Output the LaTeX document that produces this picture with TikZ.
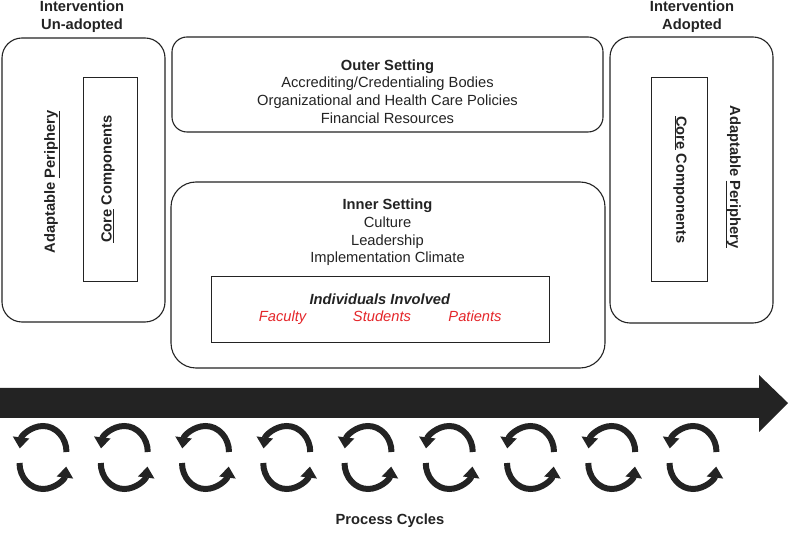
\documentclass[tikz,border=0pt]{standalone}
\usepackage{fontspec}
\setmainfont{Liberation Sans}
\usetikzlibrary{arrows.meta}
\definecolor{inkgray}{RGB}{35,35,35}
\definecolor{namered}{RGB}{228,38,42}
\tikzset{
  roundbox/.style={draw=inkgray, line width=1.1pt, rounded corners=#1, inner sep=0pt},
  corebox/.style={draw=inkgray, line width=1pt, inner sep=0pt},
  boxtext/.style={text=inkgray, align=center, inner sep=0pt, font=\fontsize{14.7}{17.7}\selectfont},
  redname/.style={boxtext, text=namered, anchor=base},
  cyclearc/.style={draw=inkgray, line width=6pt, -{Triangle[width=16pt,length=11pt]}},
}
\begin{document}
\begin{tikzpicture}
\useasboundingbox (0pt,0pt) rectangle (790pt,-534pt);
% before: intervention un-adopted
\node[boxtext] (titleleft) at (82pt,-17pt) {\textbf{Intervention}\\\textbf{Un-adopted}};
\node[roundbox=20pt, minimum width=163pt, minimum height=284pt] (unadopted) at (83.5pt,-180pt) {};
\node[corebox, rotate=90, minimum width=204pt, minimum height=54pt] (corel) at (110pt,-180pt) {};
\node[boxtext, rotate=90] (corelabel) at (108pt,-179pt) {\textbf{\underline{Core} Components}};
\node[boxtext, rotate=90] (perilabel) at (52pt,-182pt) {\textbf{Adaptable \underline{Periphery}}};
% settings
\node[roundbox=15pt, minimum width=431pt, minimum height=95pt] (outer) at (387.5pt,-84.5pt) {};
\node[boxtext] (outertext) at (387.5pt,-91.5pt) {\textbf{Outer Setting}\\Accrediting/Credentialing Bodies\\Organizational and Health Care Policies\\Financial Resources};
\node[roundbox=25pt, minimum width=434pt, minimum height=186pt] (inner) at (388pt,-275pt) {};
\node[boxtext] (innertext) at (387.5pt,-232.5pt) {\textbf{Inner Setting}\\Culture\\Leadership\\Implementation Climate};
\node[corebox, minimum width=338pt, minimum height=66pt] (indiv) at (380pt,-310pt) {};
\node[boxtext, anchor=base] (indivhead) at (380pt,-305pt) {\textbf{\textit{Individuals Involved}}};
\node[redname] (faculty) at (283pt,-322pt) {\textit{Faculty}};
\node[redname] (students) at (382pt,-322pt) {\textit{Students}};
\node[redname] (patients) at (475pt,-322pt) {\textit{Patients}};
% after: intervention adopted
\node[boxtext] (titleright) at (692pt,-17pt) {\textbf{Intervention}\\\textbf{Adopted}};
\node[roundbox=20pt, minimum width=163pt, minimum height=286pt] (adopted) at (691.5pt,-180pt) {};
\node[corebox, rotate=-90, minimum width=204pt, minimum height=56pt] (corer) at (679pt,-180pt) {};
\node[boxtext, rotate=-90] (corerlabel) at (680pt,-180pt) {\textbf{\underline{Core} Components}};
\node[boxtext, rotate=-90] (perirlabel) at (733pt,-177pt) {\textbf{Adaptable \underline{Periphery}}};
% time arrow
\fill[inkgray] (0pt,-388pt) -- (759pt,-388pt) -- (759pt,-375pt) -- (788pt,-403pt)
  -- (759pt,-432pt) -- (759pt,-418pt) -- (0pt,-418pt) -- cycle;
% process cycles
\foreach \i [evaluate=\i as \cx using 43+81.25*\i] in {0,...,8}{
  \draw[cyclearc] ({\cx pt+23.5pt},-452pt) arc[start angle=0, end angle=172, x radius=23.5pt, y radius=26pt];
  \draw[cyclearc] ({\cx pt-23.5pt},-463pt) arc[start angle=180, end angle=352, x radius=23.5pt, y radius=26pt];
}
\node[boxtext] (cyclestext) at (390pt,-521pt) {\textbf{Process Cycles}};
\end{tikzpicture}
\end{document}
